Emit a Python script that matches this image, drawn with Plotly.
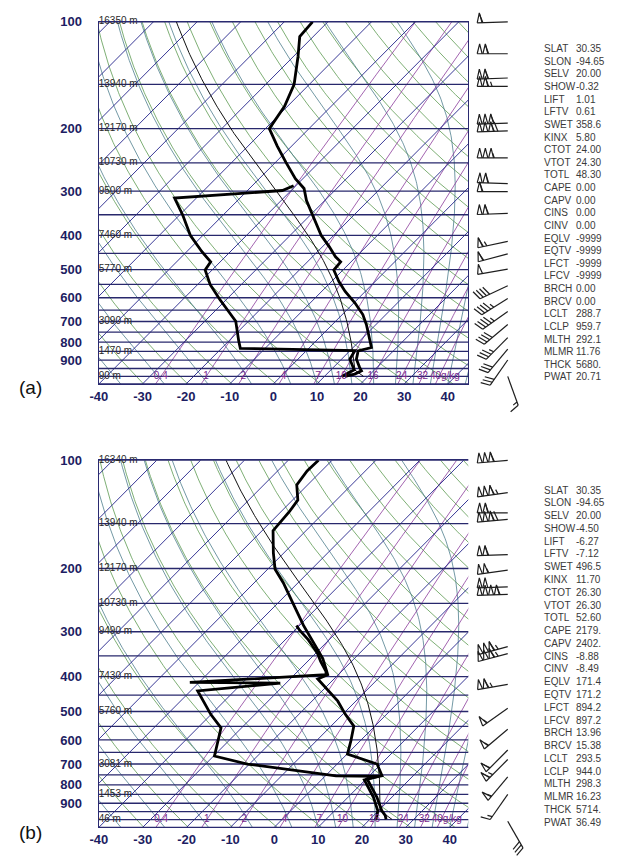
import numpy as np
import plotly.graph_objects as go

# ---------------- data ----------------
# Panel (a) sounding: temperature and dew point (hPa, degC)
A_TEMP_P = [1000, 985, 964, 943, 894, 847, 829, 777, 714, 669, 621, 576, 540, 501, 475, 460, 431, 400,
            355, 319, 295, 277, 249, 224, 200, 173, 150, 125, 110, 100]
A_TEMP_T = [14.7, 16.4, 17.2, 16.0, 13.4, 11.9, 14.2, 11.5, 7.8, 4.7, 0.3, -4.6, -8.3, -12.1, -12.4, -14.7,
            -18.4, -22.9, -28.9, -34.2, -37.5, -41.7, -47.6, -53.3, -59.1, -60.7, -63.5, -69.0, -73.1, -73.5]
A_DEW_P = [1000, 958, 894, 846, 833, 795, 699, 607, 551, 501, 475, 445, 400, 351, 314, 299, 290]
A_DEW_T = [14.0, 15.3, 11.9, 11.1, -15.7, -17.7, -22.9, -31.5, -37.1, -41.6, -42.2, -46.5, -52.9, -59.2,
           -65.0, -42.0, -40.5]

# Panel (b) sounding
B_TEMP_P = [998, 973, 943, 866, 770, 755, 700, 657, 604, 549, 510, 468, 406, 395, 356, 320, 288, 251,
            219, 201, 181, 157, 149, 139, 129, 117, 107, 100]
B_TEMP_T = [23.7, 22.6, 20.7, 16.6, 10.2, 12.9, 9.1, 0.1, -2.1, -4.8, -9.3, -14.1, -23.7, -22.4, -27.2,
            -33.2, -39.1, -46.3, -53.4, -58.3, -62.4, -67.5, -67.7, -68.1, -68.8, -72.5, -73.3, -73.1]
B_DEW_P = [998, 985, 943, 866, 775, 757, 755, 739, 700, 665, 604, 555, 510, 438, 417, 415, 395, 387,
           363, 345, 316, 297, 288]
B_DEW_T = [21.2, 21.1, 19.8, 15.8, 9.8, 12.3, 2.4, -4.4, -20.5, -29.8, -32.5, -34.7, -40.0, -48.4, -31.3,
           -52.1, -22.8, -23.5, -27.0, -29.5, -34.7, -38.9, -40.7]

# Heights of standard levels
HGT_P = [100, 150, 200, 250, 300, 400, 500, 700, 850, 1000]
A_HGT = ["16350 m", "13940 m", "12170 m", "10730 m", "9500 m", "7460 m", "5770 m", "3090 m", "1470 m", "90 m"]
B_HGT = ["16340 m", "13940 m", "12170 m", "10730 m", "9490 m", "7430 m", "5760 m", "3081 m", "1453 m", "46 m"]

# Wind barbs (hPa, direction deg, speed kt)
A_BARB_P = [100, 123, 144, 152, 193, 203, 242, 286, 301, 347, 416, 451, 498, 555, 603, 656, 714, 777, 837, 899, 1000]
A_BARB_DIR = [268, 270, 268, 270, 268, 268, 270, 272, 270, 268, 258, 255, 260, 245, 238, 235, 230, 225, 220, 215, 160]
A_BARB_SPD = [60, 110, 110, 115, 160, 170, 155, 110, 60, 110, 65, 60, 50, 40, 45, 45, 40, 35, 30, 30, 15]

B_BARB_P = [100, 123, 140, 146, 183, 202, 225, 236, 330, 345, 420, 490, 560, 640, 680, 760, 850, 1010]
B_BARB_DIR = [265, 262, 270, 265, 268, 262, 268, 268, 255, 255, 260, 235, 230, 225, 225, 220, 215, 150]
B_BARB_SPD = [160, 165, 110, 170, 110, 105, 100, 210, 165, 165, 115, 55, 55, 60, 65, 55, 15, 30]

# Mixing-ratio lines (g/kg) and their labels
MIX_VALUES = [0.4, 1, 2, 4, 7, 10, 16, 24, 32, 40]
MIX_LABELS = ["0.4", "1", "2", "4", "7", "10", "16", "24", "32", "40g/kg"]

# Station indices
STAT_NAMES = ["SLAT", "SLON", "SELV", "SHOW", "LIFT", "LFTV", "SWET", "KINX", "CTOT", "VTOT", "TOTL",
              "CAPE", "CAPV", "CINS", "CINV", "EQLV", "EQTV", "LFCT", "LFCV", "BRCH", "BRCV", "LCLT",
              "LCLP", "MLTH", "MLMR", "THCK", "PWAT"]
A_STATS = ["30.35", "-94.65", "20.00", "-0.32", "1.01", "0.61", "358.6", "5.80", "24.00", "24.30", "48.30",
           "0.00", "0.00", "0.00", "0.00", "-9999", "-9999", "-9999", "-9999", "0.00", "0.00", "288.7",
           "959.7", "292.1", "11.76", "5680.", "20.71"]
B_STATS = ["30.35", "-94.65", "20.00", "-4.50", "-6.27", "-7.12", "496.5", "11.70", "26.30", "26.30", "52.60",
           "2179.", "2402.", "-8.88", "-8.49", "171.4", "171.2", "894.2", "897.2", "13.96", "15.38", "293.5",
           "944.0", "298.3", "16.23", "5714.", "36.49"]

P_TICKS = [100, 200, 300, 400, 500, 600, 700, 800, 900]
T_TICKS = [-40, -30, -20, -10, 0, 10, 20, 30, 40]
ISOBARS = list(range(100, 1051, 50))
ISOTHERMS = list(range(-130, 50, 10))
DRY_THETA = list(range(230, 531, 10))
MOIST_T0 = [-35, -25, -15, -5, 4, 10, 14, 18, 23, 28, 32, 36, 40, 44]

# ---------------- geometry / constants ----------------
W, H = 627, 865
P_BOT, P_TOP = 1050.0, 100.0
X_LEFT, X_RIGHT = -40.05, 44.7
FONT = "Liberation Sans"
NAVY = "#1d1d62"

fig = go.Figure()


def es_hpa(tc):
    return 6.112 * np.exp(17.67 * tc / (tc + 243.5))


def moist_profile(t0_k, p_levels):
    """Integrate pseudo-adiabatic lapse rate along p_levels, starting at p_levels[0]."""
    t = np.array(t0_k, dtype=float)
    out = [t.copy()]

    def f(T, p):
        tc = T - 273.15
        e = es_hpa(tc)
        rs = 0.622 * e / (p - e)
        num = 287.04 * T + 2.501e6 * rs
        den = 1005.7 + (2.501e6 ** 2 * rs * 0.622) / (287.04 * T * T)
        return num / den / p

    for i in range(1, len(p_levels)):
        p0, p1 = p_levels[i - 1], p_levels[i]
        h = p1 - p0
        k1 = f(t, p0)
        k2 = f(t + 0.5 * h * k1, p0 + 0.5 * h)
        k3 = f(t + 0.5 * h * k2, p0 + 0.5 * h)
        k4 = f(t + h * k3, p1)
        t = t + h / 6 * (k1 + 2 * k2 + 2 * k3 + k4)
        out.append(t.copy())
    return np.array(out)


def mix_td(w, p):
    e = w * np.asarray(p, dtype=float) / (622.0 + w)
    ln = np.log(e / 6.112)
    return 243.5 * ln / (17.67 - ln)


def join(lines):
    xs, ys = [], []
    for x, y in lines:
        xs += list(x) + [None]
        ys += list(y) + [None]
    return xs, ys


def add_panel(xa, ya, bx, by, px0, px1, py0, py1, temp_p, temp_t, dew_p, dew_t, hgts,
              barb_p, barb_dir, barb_spd, stats, label, stat_y0, stat_dy, label_y):
    pxdec = (py1 - py0) / np.log10(P_BOT / P_TOP)
    S = pxdec / ((px1 - px0) / (X_RIGHT - X_LEFT))

    def skew(t, p):
        return np.asarray(t, dtype=float) + S * np.log10(P_BOT / np.asarray(p, dtype=float))

    pp = np.logspace(np.log10(P_BOT), np.log10(P_TOP), 160)
    common = dict(xaxis=xa, yaxis=ya, hoverinfo="skip", showlegend=False, mode="lines")

    # dry adiabats
    xs, ys = join([(skew(th * (pp / 1000.0) ** 0.2857 - 273.15, pp), pp) for th in DRY_THETA])
    fig.add_trace(go.Scatter(x=xs, y=ys, line=dict(color="#5d9a52", width=0.8), **common))
    # moist adiabats
    prof = moist_profile(np.array(MOIST_T0) + 273.15, pp)
    xs, ys = join([(skew(prof[:, i] - 273.15, pp), pp) for i in range(len(MOIST_T0))])
    fig.add_trace(go.Scatter(x=xs, y=ys, line=dict(color="#4f7f8e", width=0.8), **common))
    # mixing ratio lines
    xs, ys = join([(skew(mix_td(w, pp), pp), pp) for w in MIX_VALUES])
    fig.add_trace(go.Scatter(x=xs, y=ys, line=dict(color="#8c3c9c", width=0.8), **common))
    # isotherms
    xs, ys = join([(skew([t, t], [P_BOT, P_TOP]), [P_BOT, P_TOP]) for t in ISOTHERMS])
    fig.add_trace(go.Scatter(x=xs, y=ys, line=dict(color="#22228a", width=0.9), **common))
    # isobars
    xs, ys = join([([X_LEFT, X_RIGHT], [p, p]) for p in ISOBARS])
    fig.add_trace(go.Scatter(x=xs, y=ys, line=dict(color="#28286c", width=1.3), **common))

    # parcel path from station LCL values
    lclt = float(stats[21])
    lclp = float(stats[22])
    psfc = temp_p[0]
    pd = np.linspace(psfc, lclp, 20)
    theta = lclt * (1000.0 / lclp) ** 0.2857
    pm = np.logspace(np.log10(lclp), np.log10(P_TOP), 160)
    tm = moist_profile(np.array([lclt]), pm)[:, 0]
    px_ = np.concatenate([pd, pm])
    tx_ = np.concatenate([theta * (pd / 1000.0) ** 0.2857, tm]) - 273.15
    fig.add_trace(go.Scatter(x=skew(tx_, px_), y=px_, line=dict(color="#111111", width=1.0), **common))

    # sounding
    fig.add_trace(go.Scatter(x=skew(dew_t, dew_p), y=dew_p, line=dict(color="black", width=2.8), **common))
    fig.add_trace(go.Scatter(x=skew(temp_t, temp_p), y=temp_p, line=dict(color="black", width=2.8), **common))

    # height labels
    fig.add_trace(go.Scatter(x=[X_LEFT] * len(HGT_P), y=HGT_P, text=hgts, mode="text",
                             textposition="middle right", cliponaxis=False,
                             textfont=dict(family=FONT, size=10, color="#2a2a2a"),
                             xaxis=xa, yaxis=ya, hoverinfo="skip", showlegend=False))
    # mixing ratio labels (last one written to the right of the 32 label)
    mx = list(skew([mix_td(w, 1000.0) for w in MIX_VALUES], [1000.0] * len(MIX_VALUES)))
    mx[-1] = 0.5 * (mx[-2] + mx[-1]) - 0.2
    tpos = ["middle center"] * (len(MIX_VALUES) - 1) + ["middle right"]
    fig.add_trace(go.Scatter(x=mx, y=[1000.0] * len(mx), text=MIX_LABELS,
                             mode="text", textposition=tpos, cliponaxis=False,
                             textfont=dict(family=FONT, size=10, color="#7a2a8e"),
                             xaxis=xa, yaxis=ya, hoverinfo="skip", showlegend=False))

    # barb axes: same pressure scale, extended above and below the panel
    ext_t = min(25.0, py0)
    ext_b = min(35.0, H - py1)

    # wind barbs (x in px units, y in log10(p))
    sx = 506.0
    L, flen, gap, pw = 31.0, 10.0, 3.6, 5.0
    segs_x, segs_y = [], []
    for p, d, spd in zip(barb_p, barb_dir, barb_spd):
        y0 = np.log10(p)
        r = np.radians(d)
        u = np.array([np.sin(r), np.cos(r)])
        a = np.radians(70)
        fv = np.array([u[0] * np.cos(a) + u[1] * np.sin(a), -u[0] * np.sin(a) + u[1] * np.cos(a)])
        nv = np.array([u[1], -u[0]])

        def pt(t, ex=(0.0, 0.0)):
            return sx + t * u[0] + ex[0], y0 - (t * u[1] + ex[1]) / pxdec

        def seg(pts):
            for q in pts:
                segs_x.append(q[0])
                segs_y.append(q[1])
            segs_x.append(None)
            segs_y.append(None)

        seg([pt(0), pt(L)])
        n50 = spd // 50
        rem = spd - 50 * n50
        n10 = rem // 10
        n5 = 1 if rem - 10 * n10 >= 5 else 0
        t = L
        for _ in range(n50):
            seg([pt(t), pt(t - pw / 2, tuple(nv * flen)), pt(t - pw)])
            t -= pw + 0.8
        for _ in range(n10):
            seg([pt(t), pt(t, tuple(fv * flen))])
            t -= gap
        if n5:
            if n50 == 0 and n10 == 0:
                t -= gap
            seg([pt(t), pt(t, tuple(fv * flen * 0.5))])
    fig.add_trace(go.Scatter(x=segs_x, y=segs_y, mode="lines", line=dict(color="#1e1e1e", width=1.2),
                             xaxis=bx, yaxis=by, hoverinfo="skip", showlegend=False))

    # axes
    xdom = [px0 / W, px1 / W]
    ydom = [1 - py1 / H, 1 - py0 / H]
    xkey = "xaxis" if xa == "x" else "xaxis" + xa[1:]
    ykey = "yaxis" if ya == "y" else "yaxis" + ya[1:]
    fig.layout[xkey] = dict(domain=xdom, range=[X_LEFT, X_RIGHT], anchor=ya, showgrid=False, zeroline=False,
                            tickvals=T_TICKS, ticktext=["<b>%d</b>" % v for v in T_TICKS],
                            tickfont=dict(family=FONT, size=13, color=NAVY), ticks="",
                            ticklabelstandoff=0, showline=True, linecolor="#2a2a70", linewidth=1,
                            mirror=True)
    fig.layout[ykey] = dict(domain=ydom, type="log", range=[np.log10(P_BOT), np.log10(P_TOP)], anchor=xa,
                            showgrid=False, zeroline=False, tickvals=P_TICKS,
                            ticktext=["<b>%d</b>" % v for v in P_TICKS],
                            tickfont=dict(family=FONT, size=13, color=NAVY), ticks="",
                            ticklabelstandoff=13, showline=True, linecolor="#2a2a70", linewidth=1.2,
                            mirror=True)
    bxkey = "xaxis" + bx[1:]
    bykey = "yaxis" + by[1:]
    fig.layout[bxkey] = dict(domain=[466 / W, 545 / W], range=[466, 545], anchor=by, visible=False)
    fig.layout[bykey] = dict(domain=[1 - (py1 + ext_b) / H, 1 - (py0 - ext_t) / H],
                             range=[np.log10(P_BOT) + ext_b / pxdec, np.log10(P_TOP) - ext_t / pxdec],
                             anchor=bx, visible=False)

    # station index text
    for i, (nm, val) in enumerate(zip(STAT_NAMES, stats)):
        yy = 1 - (stat_y0 + stat_dy * i) / H
        fig.add_annotation(x=541 / W, y=yy, xref="paper", yref="paper", text=nm, showarrow=False,
                           xanchor="left", yanchor="middle", font=dict(family=FONT, size=10, color="#3a3a3a"))
        fig.add_annotation(x=573 / W, y=yy, xref="paper", yref="paper", text=val, showarrow=False,
                           xanchor="left", yanchor="middle", font=dict(family=FONT, size=10, color="#3a3a3a"))
    fig.add_annotation(x=22 / W, y=1 - label_y / H, xref="paper", yref="paper", text=label, showarrow=False,
                       xanchor="center", yanchor="middle", font=dict(family=FONT, size=19, color="#111111"))


add_panel("x", "y", "x3", "y3", 91, 466, 15, 380, A_TEMP_P, A_TEMP_T, A_DEW_P, A_DEW_T, A_HGT,
          A_BARB_P, A_BARB_DIR, A_BARB_SPD, A_STATS, "(a)", 42, 12.73, 384)
add_panel("x2", "y2", "x4", "y4", 91, 468, 457, 827, B_TEMP_P, B_TEMP_T, B_DEW_P, B_DEW_T, B_HGT,
          B_BARB_P, B_BARB_DIR, B_BARB_SPD, B_STATS, "(b)", 487, 12.88, 832)

fig.update_layout(width=W, height=H, margin=dict(l=0, r=0, t=0, b=0), paper_bgcolor="white",
                  plot_bgcolor="white", showlegend=False)

fig.write_html("out.html", config={"displayModeBar": False},
               post_script="document.body.style.margin='0px';")
